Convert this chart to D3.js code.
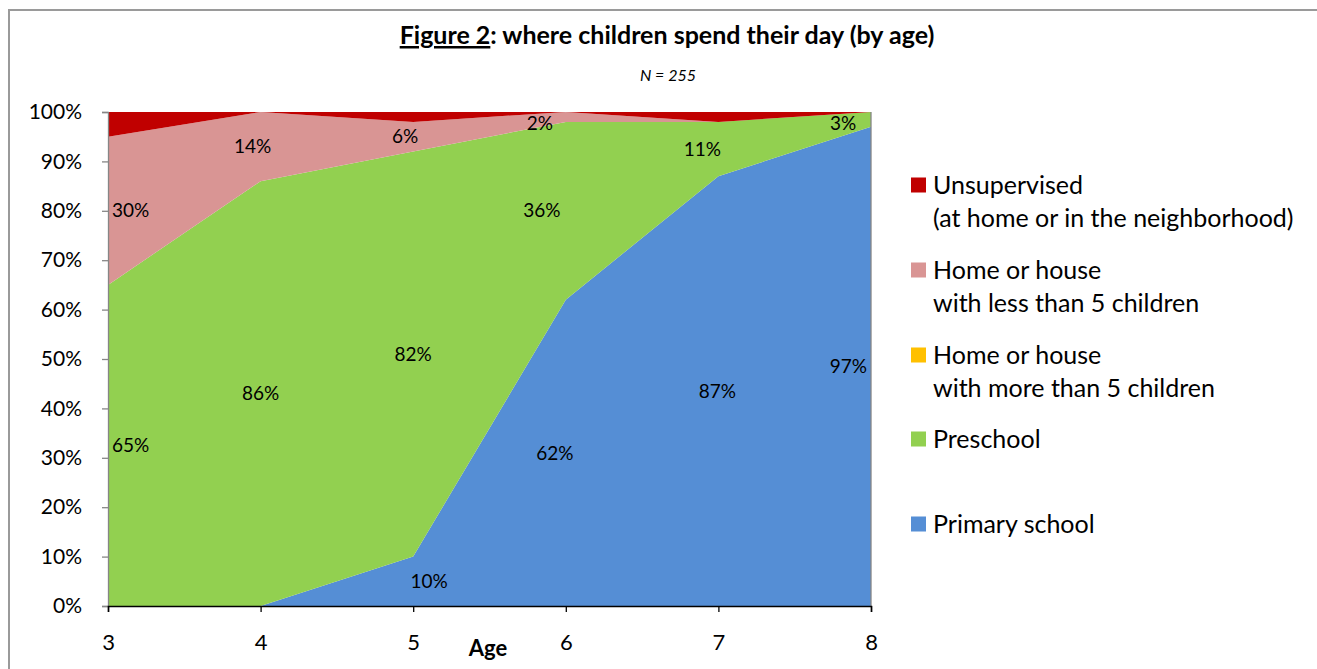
<!DOCTYPE html>
<html><head><meta charset="utf-8">
<script src="https://cdn.jsdelivr.net/npm/d3@7"></script>
<style>html,body{margin:0;padding:0;background:#fff;overflow:hidden}svg{display:block}</style>
</head><body>
<svg id="chart" width="1317" height="669"></svg>
<script>
// ---- data ----
const ages = [3, 4, 5, 6, 7, 8];
const primarySchool = [0, 0, 10, 62, 87, 97];
const preschool = [65, 86, 82, 36, 11, 3];
const moreThan5 = [0, 0, 0, 0, 0, 0];
const lessThan5 = [30, 14, 6, 2, 0, 0];
const unsupervised = [5, 0, 2, 0, 2, 0];
const yTicks = [0, 10, 20, 30, 40, 50, 60, 70, 80, 90, 100];
const seriesNames = ["Primary school", "Preschool", "Home or house\nwith more than 5 children", "Home or house\nwith less than 5 children", "Unsupervised\n(at home or in the neighborhood)"];
const seriesKeys = ["primary", "preschool", "more", "less", "unsup"];
const seriesColors = ["#558ED5", "#92D050", "#FFC000", "#D99594", "#C00000"];
const labelledKeys = ["primary", "preschool", "less"];
// small horizontal nudges of data labels, per series, per age
const labelNudge = {primary: [0, 0, 16, -11, -1, 0], preschool: [0, 0, 0, -24, -16, -28], less: [0, -8, -8, -26, 0, 0]};

const table = ages.map((a, i) => ({age: a, primary: primarySchool[i], preschool: preschool[i], more: moreThan5[i], less: lessThan5[i], unsup: unsupervised[i]}));

const svg = d3.select("#chart");
const FONT = "Lato, 'Open Sans', sans-serif";

// outer frame
svg.append("rect").attr("x", 9).attr("y", 10).attr("width", 1330).attr("height", 700)
  .attr("fill", "none").attr("stroke", "#9a9a9a").attr("stroke-width", 2);

const L = 108, R = 871, T = 112, B = 606;
const x = d3.scaleLinear().domain([3, 8]).range([L, R]);
const y = d3.scaleLinear().domain([0, 100]).range([B, T]);

const stack = d3.stack().keys(seriesKeys);
const stacked = stack(table);

const area = d3.area().x(d => x(d.data.age)).y0(d => y(d[0])).y1(d => y(d[1]));
svg.append("g").selectAll("path").data(stacked).join("path")
  .attr("d", area).attr("fill", (d, i) => seriesColors[i]).attr("stroke", "none");

// plot right border
svg.append("line").attr("x1", R).attr("x2", R).attr("y1", T).attr("y2", B).attr("stroke", "#868686").attr("stroke-width", 1.3);

// y axis
const yAxis = d3.axisLeft(y).tickValues(yTicks).tickFormat(d => d + "%").tickSize(6).tickPadding(20);
const gy = svg.append("g").attr("transform", `translate(${L},0)`).call(yAxis);
gy.select(".domain").attr("stroke", "#868686").attr("stroke-width", 1.3);
gy.selectAll(".tick line").attr("stroke", "#868686").attr("stroke-width", 1.3);
gy.selectAll("text").attr("font-family", FONT).attr("font-size", 21).attr("fill", "#000");

// x axis
const xAxis = d3.axisBottom(x).tickValues(ages).tickFormat(d3.format("d")).tickSize(6).tickPadding(22);
const gx = svg.append("g").attr("transform", `translate(0,${B})`).call(xAxis);
gx.select(".domain").attr("stroke", "#000").attr("stroke-width", 1.5);
gx.selectAll(".tick line").attr("stroke", "#000").attr("stroke-width", 1.3);
gx.selectAll("text").attr("font-family", FONT).attr("font-size", 22).attr("fill", "#000");

svg.append("text").attr("x", 488).attr("y", 656).attr("text-anchor", "middle")
  .attr("font-family", FONT).attr("font-size", 22).attr("font-weight", "bold").text("Age");

// data labels
const labels = [];
stacked.forEach(s => {
  if (!labelledKeys.includes(s.key)) return;
  s.forEach((d, i) => {
    const v = d[1] - d[0];
    if (v <= 0) return;
    labels.push({key: s.key, i, v, mid: (d[0] + d[1]) / 2});
  });
});
const lg = svg.append("g").attr("font-family", FONT).attr("font-size", 19).attr("fill", "#000");
lg.selectAll("text").data(labels).join("text")
  .attr("x", d => {
    const px = x(ages[d.i]) + labelNudge[d.key][d.i];
    if (d.i === 0) return px + 4;
    if (d.i === ages.length - 1 && labelNudge[d.key][d.i] === 0) return px - 4;
    return px;
  })
  .attr("text-anchor", d => d.i === 0 ? "start" : (d.i === ages.length - 1 && labelNudge[d.key][d.i] === 0 ? "end" : "middle"))
  .attr("y", d => Math.max(y(d.mid), 123))
  .attr("dy", "0.35em")
  .text(d => d.v + "%");

// title
const title = svg.append("text").attr("x", 667).attr("y", 44).attr("text-anchor", "middle")
  .attr("font-family", FONT).attr("font-size", 25).attr("font-weight", "bold");
title.append("tspan").attr("text-decoration", "underline").text("Figure 2");
title.append("tspan").text(": where children spend their day (by age)");

svg.append("text").attr("x", 668).attr("y", 81).attr("text-anchor", "middle")
  .attr("font-family", FONT).attr("font-size", 16).attr("font-style", "italic").text("N = 255");

// legend (top to bottom: reverse stacking order)
const legendOrder = [4, 3, 2, 1, 0];
const legendY = [185, 270, 355, 439, 524];
const leg = svg.append("g").attr("font-family", FONT).attr("font-size", 25).attr("fill", "#000");
legendOrder.forEach((si, k) => {
  const cy = legendY[k];
  leg.append("rect").attr("x", 911).attr("y", cy - 7.5).attr("width", 15).attr("height", 15).attr("fill", seriesColors[si]);
  seriesNames[si].split("\n").forEach((line, j) => {
    leg.append("text").attr("x", 933).attr("y", cy + j * 33).attr("dy", "0.35em").text(line);
  });
});
</script>
</body></html>
